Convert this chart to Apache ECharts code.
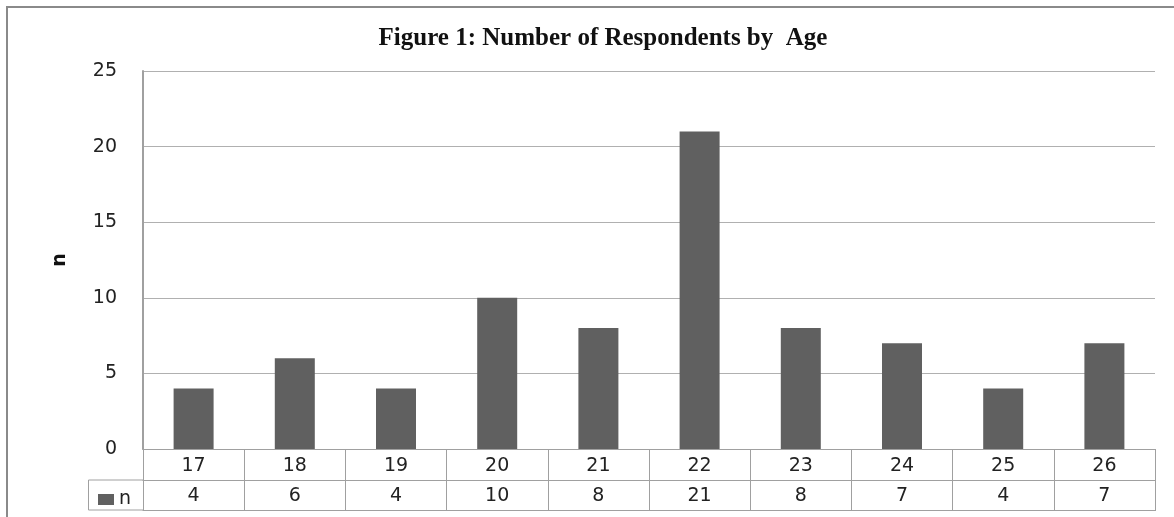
<!DOCTYPE html>
<html>
<head>
<meta charset="utf-8">
<script src="https://cdn.jsdelivr.net/npm/echarts@6/dist/echarts.min.js"></script>
<style>
  html, body { margin: 0; padding: 0; background: #fff; }
  #chart { width: 1174px; height: 517px; }
</style>
</head>
<body>
<div id="chart"></div>
<script>
// chart data
const ages   = ['17', '18', '19', '20', '21', '22', '23', '24', '25', '26'];
const counts = [4, 6, 4, 10, 8, 21, 8, 7, 4, 7];
const yTicks = { min: 0, max: 25, interval: 5 };

const gridLine  = '#b0b0b0';
const axisColor = '#a0a0a0';
const barColor  = '#606060';
const labelFont = { fontFamily: 'DejaVu Sans', fontSize: 19, color: '#222' };

const el = document.getElementById('chart');
const chart = echarts.init(el, null, { renderer: 'canvas' });

// plot area box (px)
const G = { left: 143, right: 1155, top: 71, bottom: 449 };
const rowH = 31;

chart.setOption({
    animation: false,
    title: {
        text: 'Figure 1: Number of Respondents by  Age',
        left: 598,
        textAlign: 'center',
        top: 21,
        textStyle: { fontFamily: 'Liberation Serif', fontWeight: 'bold', fontSize: 25, color: '#111' }
    },
    legend: {
        data: ['n'],
        left: 93,
        top: 485,
        icon: 'rect',
        itemWidth: 16,
        itemHeight: 11,
        itemGap: 6,
        textStyle: labelFont
    },
    grid: {
        left: G.left,
        right: 1174 - G.right,
        top: G.top,
        bottom: 517 - G.bottom,
        containLabel: false
    },
    xAxis: [
        {
            type: 'category',
            data: ages,
            position: 'bottom',
            axisLine: { show: true, lineStyle: { color: axisColor, width: 1 } },
            axisTick: { show: true, interval: 0, length: rowH * 2, lineStyle: { color: axisColor } },
            axisLabel: { interval: 0, margin: 8, ...labelFont }
        },
        {
            type: 'category',
            data: ages,
            position: 'bottom',
            offset: rowH,
            axisLine: { show: true, lineStyle: { color: axisColor, width: 1 } },
            axisTick: { show: false },
            axisLabel: { interval: 0, margin: 7, formatter: (v, i) => String(counts[i]), ...labelFont }
        },
        {
            type: 'category',
            data: ages,
            position: 'bottom',
            offset: rowH * 2 - 1,
            axisLine: { show: true, lineStyle: { color: axisColor, width: 1 } },
            axisTick: { show: false },
            axisLabel: { show: false }
        }
    ],
    yAxis: {
        type: 'value',
        min: yTicks.min,
        max: yTicks.max,
        interval: yTicks.interval,
        name: 'n',
        nameLocation: 'middle',
        nameGap: 73,
        nameTextStyle: { fontFamily: 'DejaVu Sans', fontWeight: 'bold', fontSize: 19, color: '#111' },
        axisLine: { show: true, lineStyle: { color: axisColor, width: 2 } },
        axisTick: { show: false },
        splitLine: { show: true, lineStyle: { color: gridLine, width: 1 } },
        axisLabel: { margin: 26, ...labelFont }
    },
    series: [{
        name: 'n',
        type: 'bar',
        data: counts,
        barWidth: 40,
        itemStyle: { color: barColor }
    }],
    graphic: [
        // outer chart border
        {
            type: 'rect',
            shape: { x: 7, y: 7, width: 1300, height: 700 },
            style: { fill: null, stroke: '#8a8a8a', lineWidth: 2 },
            silent: true
        },
        // legend cell of the data table
        {
            type: 'polyline',
            shape: { points: [[G.left, G.bottom + rowH], [88.5, G.bottom + rowH], [88.5, G.bottom + rowH * 2 - 1], [G.left, G.bottom + rowH * 2 - 1]] },
            style: { fill: null, stroke: axisColor, lineWidth: 1 },
            silent: true
        }
    ]
});

new ResizeObserver(() => chart.resize()).observe(el);
</script>
</body>
</html>
